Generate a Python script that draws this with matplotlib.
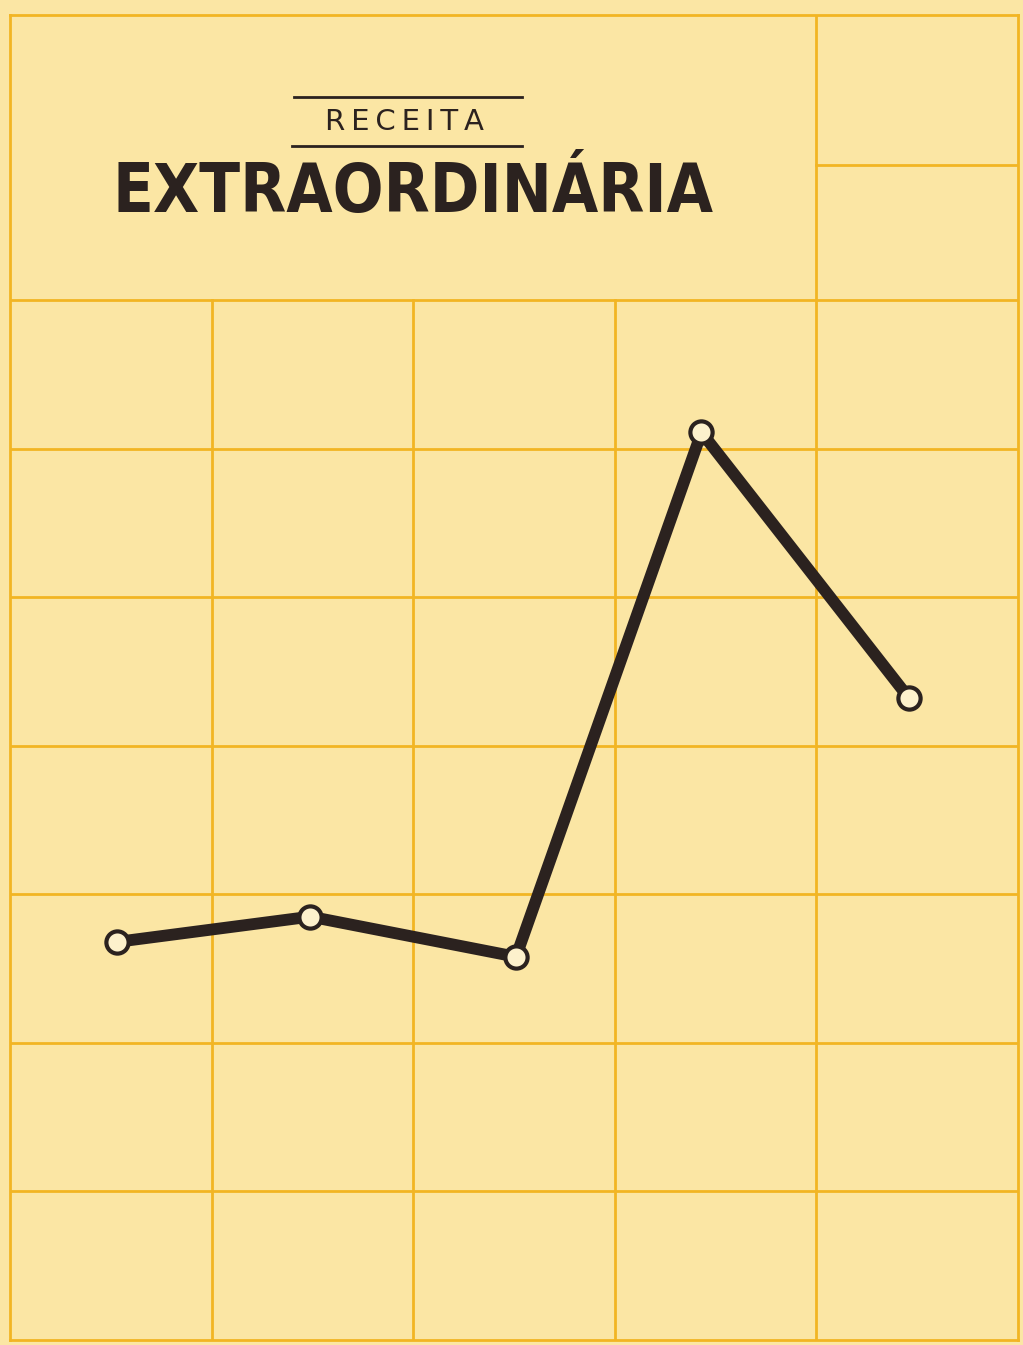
import matplotlib
matplotlib.use("Agg")
import matplotlib.pyplot as plt

# data (grid units: each cell = 1 unit)
x_pos = [0.53, 1.49, 2.51, 3.43, 4.46]
values = [2.68, 2.85, 2.58, 6.11, 4.32]
title_small = "RECEITA"
title_big = "EXTRAORDINÁRIA"

BG = "#FBE6A4"
GRID = "#F2B523"
INK = "#2B221F"

fig = plt.figure(figsize=(10.23, 13.45), dpi=100)
fig.patch.set_facecolor(BG)
ax = fig.add_axes([10/1023, 5/1345, 1008/1023, 1325/1345])
ax.set_facecolor(BG)
ax.set_xlim(0, 5)
ax.set_ylim(0, 8.92)
ax.set_xticks([]); ax.set_yticks([])
for s in ax.spines.values():
    s.set_color(GRID); s.set_linewidth(2)

gkw = dict(color=GRID, lw=2, zorder=1)
for yy in range(1, 8):
    ax.plot([0, 5], [yy, yy], **gkw)
for xx in range(1, 4):
    ax.plot([xx, xx], [0, 7], **gkw)
ax.plot([4, 4], [0, 8.92], **gkw)
ax.plot([4, 5], [7.91, 7.91], **gkw)

ax.plot(x_pos, values, color=INK, lw=8.5, solid_capstyle="round", zorder=3,
        marker="o", markersize=16, markerfacecolor="#FDF1CC",
        markeredgecolor=INK, markeredgewidth=3)

# title
ax.plot([1.41, 2.54], [8.37, 8.37], color=INK, lw=2, zorder=3)
ax.plot([1.40, 2.54], [8.04, 8.04], color=INK, lw=2, zorder=3)
ax.text(1.955, 8.20, "\u2009".join(title_small), ha="center", va="center",
        fontsize=21, family="DejaVu Sans", color=INK)
ax.text(2.0, 7.72, title_big, ha="center", va="center", fontsize=48,
        family="DejaVu Sans", stretch="condensed", weight="heavy", color=INK)

fig.savefig("out.png", dpi=100, facecolor=BG)
